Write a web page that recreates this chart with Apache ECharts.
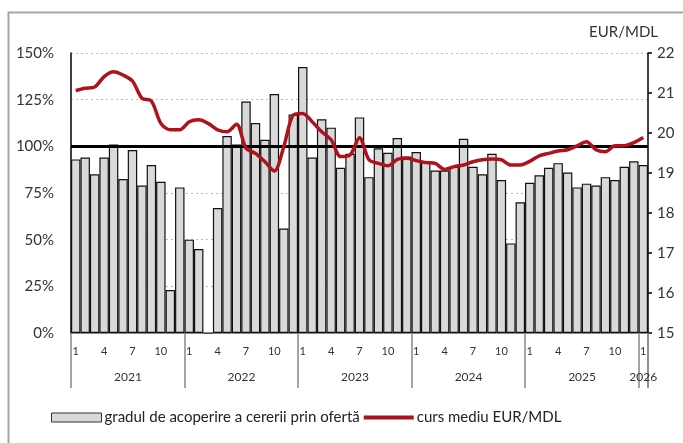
<!DOCTYPE html>
<html>
<head>
<meta charset="utf-8">
<script src="https://cdn.jsdelivr.net/npm/echarts@6/dist/echarts.min.js"></script>
<style>
html,body{margin:0;padding:0;background:#fff;}
#c{width:683px;height:443px;}
</style>
</head>
<body>
<div id="c"></div>
<script>
// months Jan 2021 .. Jan 2026
const years = [2021, 2022, 2023, 2024, 2025, 2026];
const monthsPerYear = [12, 12, 12, 12, 12, 1];
const categories = [];
years.forEach((y, i) => { for (let m = 1; m <= monthsPerYear[i]; m++) categories.push(y + '-' + m); });

// gradul de acoperire a cererii prin ofertă, %
const coverage = [
  93, 94, 85, 94, 101, 82.5, 98, 79, 90, 81, 23, 78,
  50, 45, 0, 67, 105.5, 101, 124, 112.5, 103.5, 128, 56, 117,
  142.5, 94, 114.5, 110, 88.5, 96, 115.5, 83.5, 99, 96.5, 104.5, 94.5,
  97, 92, 87, 87, 89, 104, 89, 85, 96, 82, 48, 70,
  80.5, 84.5, 88.5, 91, 86, 78, 80, 79, 83.5, 82, 89, 92,
  90
];
// curs mediu EUR/MDL
const eurMdl = [
  21.06, 21.12, 21.15, 21.41, 21.53, 21.45, 21.3, 20.87, 20.8, 20.24, 20.08, 20.08,
  20.28, 20.33, 20.24, 20.08, 20.03, 20.22, 19.62, 19.49, 19.28, 19.05, 19.66, 20.45,
  20.49, 20.28, 20.03, 19.83, 19.41, 19.45, 19.88, 19.33, 19.24, 19.18, 19.34, 19.37,
  19.31, 19.26, 19.24, 19.09, 19.16, 19.2, 19.28, 19.33, 19.35, 19.33, 19.2, 19.2,
  19.29, 19.43, 19.49, 19.55, 19.58, 19.68, 19.78, 19.58, 19.53, 19.68, 19.68, 19.76,
  19.89
];
const leftTicks = { min: 0, max: 150, interval: 25 };
const rightTicks = { min: 15, max: 22, interval: 1 };
const monthLabels = [1, 4, 7, 10];

const FONT = 'Lato';
const chart = echarts.init(document.getElementById('c'), null, { renderer: 'canvas' });

function monthOf(i) { return +categories[i].split('-')[1]; }
function yearOf(i) { return categories[i].split('-')[0]; }

const BAR_NAME = 'gradul de acoperire a cererii prin ofertă';
const LINE_NAME = 'curs mediu EUR/MDL';

chart.setOption({
  animation: false,
  backgroundColor: '#fff',
  textStyle: { fontFamily: FONT },
  title: {
    text: 'EUR/MDL', right: 20, top: 20,
    textStyle: { fontFamily: FONT, fontSize: 15, fontWeight: 'normal', color: '#333' }
  },
  grid: { left: 71, right: 35, top: 53, bottom: 110, containLabel: false },
  legend: {
    left: 46, top: 405, itemWidth: 50, itemHeight: 9, itemGap: 4,
    textStyle: { fontFamily: FONT, fontSize: 15, color: '#222', padding: [0, 0, 0, -2] },
    data: [
      { name: BAR_NAME, icon: 'rect', itemStyle: { color: '#d9d9d9', borderColor: '#333', borderWidth: 1 } },
      { name: LINE_NAME, icon: 'path://M0,0L60,0L60,5L0,5Z', itemStyle: { color: '#b0121b', borderWidth: 0 } }
    ]
  },
  xAxis: [{
    type: 'category', data: categories, boundaryGap: true,
    axisLine: { show: true, lineStyle: { color: '#888', width: 1 } },
    axisTick: {
      show: true, length: 55, lineStyle: { color: '#888', width: 1.5 },
      interval: function (i) { return monthOf(i) === 1; }
    },
    axisLabel: {
      interval: function (i) { return monthLabels.indexOf(monthOf(i)) >= 0; },
      formatter: function (v) { return v.split('-')[1]; },
      fontFamily: FONT, fontSize: 11, color: '#333', margin: 13
    },
    splitLine: { show: false }
  }, {
    type: 'category', data: categories, boundaryGap: true, position: 'bottom',
    axisLine: { show: false }, axisTick: { show: false },
    axisLabel: {
      interval: function (i) { return (monthOf(i) === 6) || (monthsPerYear[years.indexOf(+yearOf(i))] === 1 && monthOf(i) === 1); },
      formatter: function (v) {
        const y = v.split('-')[0];
        return monthsPerYear[years.indexOf(+y)] === 1 ? '{b|' + y + '}' : '{a|' + y + '}';
      },
      rich: {
        a: { fontFamily: FONT, fontSize: 12, color: '#333', padding: [0, 0, 0, 10] },
        b: { fontFamily: FONT, fontSize: 12, color: '#333' }
      },
      margin: 38
    }
  }],
  yAxis: [{
    type: 'value', min: leftTicks.min, max: leftTicks.max, interval: leftTicks.interval,
    axisLine: { show: true, lineStyle: { color: '#000', width: 1.5 } },
    axisTick: { show: false },
    axisLabel: { formatter: '{value}%', fontFamily: FONT, fontSize: 15, color: '#333', margin: 17 },
    splitLine: { show: true, lineStyle: { color: '#bbb', type: [2, 3], width: 1 } }
  }, {
    type: 'value', min: rightTicks.min, max: rightTicks.max, interval: rightTicks.interval,
    position: 'right',
    axisLine: { show: true, lineStyle: { color: '#000', width: 1.5 } },
    axisTick: { show: true, inside: false, length: 4, lineStyle: { color: '#000', width: 1.5 } },
    axisLabel: { fontFamily: FONT, fontSize: 15, color: '#333', margin: 9 },
    splitLine: { show: false }
  }],
  series: [{
    name: BAR_NAME,
    type: 'bar', xAxisIndex: 0, yAxisIndex: 0, data: coverage,
    barWidth: '100%',
    itemStyle: { color: '#d9d9d9', borderColor: '#111', borderWidth: 1.2 },
    markLine: {
      silent: true, symbol: 'none', label: { show: false },
      lineStyle: { color: '#000', width: 3, type: 'solid' },
      data: [{ yAxis: 100 }]
    },
    z: 2
  }, {
    name: LINE_NAME,
    type: 'line', xAxisIndex: 0, yAxisIndex: 1, data: eurMdl,
    symbol: 'none', showSymbol: false, smooth: 0.3,
    lineStyle: { color: '#b0121b', width: 3.5 },
    itemStyle: { color: '#b0121b' },
    z: 10
  }]
});

// frame and closing separator at the right end of the category axis (positions from the axis scale)
const lastIdx = categories.length - 1;
const xLast = chart.convertToPixel({ xAxisIndex: 0 }, categories[lastIdx]);
const xPrev = chart.convertToPixel({ xAxisIndex: 0 }, categories[lastIdx - 1]);
const xEnd = xLast + (xLast - xPrev) / 2;
const yBase = chart.convertToPixel({ yAxisIndex: 0 }, leftTicks.min);
chart.setOption({
  graphic: [{
    type: 'rect', shape: { x: 8.5, y: 12.5, width: 700, height: 460 },
    style: { fill: 'none', stroke: '#a6a6a6', lineWidth: 2 }, z: -10, silent: true
  }, {
    type: 'line', shape: { x1: xEnd, y1: yBase, x2: xEnd, y2: yBase + 55 },
    style: { stroke: '#888', lineWidth: 1.5 }, silent: true
  }]
});
</script>
</body>
</html>
